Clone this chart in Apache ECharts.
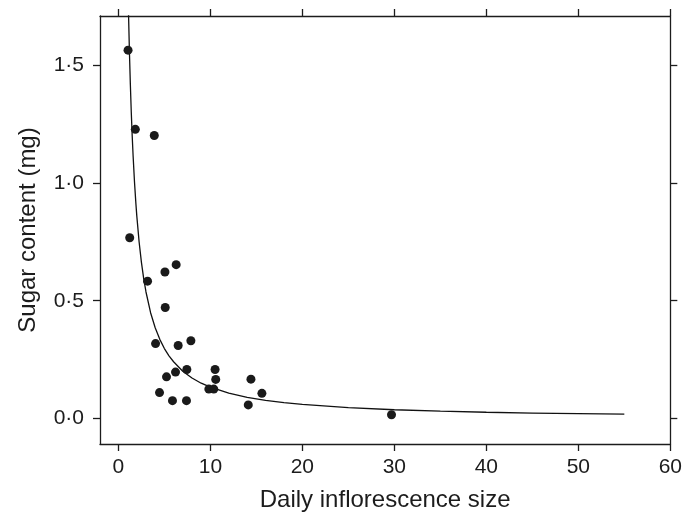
<!DOCTYPE html>
<html>
<head>
<meta charset="utf-8">
<style>
  html, body { margin: 0; padding: 0; background: #fff; }
  #chart { width: 685px; height: 517px; }
</style>
<script src="https://cdn.jsdelivr.net/npm/echarts@6/dist/echarts.min.js"></script>
</head>
<body>
<div id="chart"></div>
<script>
// Observed inflorescences: daily size vs. sugar content
const inflorescenceSize = [1.05, 1.84, 3.9, 1.23, 3.17, 5.06, 6.28, 5.09, 4.04, 6.5,
  7.88, 7.44, 6.21, 5.23, 4.47, 5.88, 7.4, 10.51, 10.58, 9.83,
  10.37, 14.41, 15.6, 14.12, 29.69];
const sugarContent = [1.563, 1.227, 1.201, 0.767, 0.583, 0.622, 0.653, 0.471, 0.318, 0.31,
  0.33, 0.208, 0.197, 0.177, 0.11, 0.076, 0.076, 0.208, 0.166, 0.125,
  0.125, 0.167, 0.107, 0.058, 0.016];

// Fitted decay curve, sampled along its length
const curveSize = [1.1, 1.2, 1.3, 1.4, 1.5, 1.6, 1.75, 1.9, 2, 2.25, 2.5, 2.75, 3, 3.5, 4, 4.5,
  5, 5.5, 6, 7, 8, 9, 10, 12, 14, 16, 18, 20, 25, 30, 35, 40, 45, 50, 55];
const curveSugar = [1.719, 1.554, 1.417, 1.3, 1.2, 1.114, 1.004, 0.913, 0.86, 0.75, 0.664, 0.594,
  0.537, 0.449, 0.385, 0.336, 0.297, 0.266, 0.241, 0.201, 0.172, 0.15, 0.133, 0.108, 0.0901,
  0.0772, 0.0674, 0.06, 0.046, 0.0373, 0.0312, 0.0267, 0.0233, 0.0206, 0.0185];

// Axis ticks
const xTicks = [0, 10, 20, 30, 40, 50, 60];
const yTicks = [0, 0.5, 1.0, 1.5];

const ink = '#1c1c1c';
const fontFamily = '"Liberation Sans", Arial, Helvetica, sans-serif';

const chart = echarts.init(document.getElementById('chart'), null, { renderer: 'canvas' });

const lineStyle = { color: ink, width: 1.3 };
const tickStyle = { color: ink, width: 1.3 };

function xAxisDef(pos, withLabels) {
  return {
    type: 'value', position: pos, min: -2, max: 60,
    axisLine: { show: true, onZero: false, lineStyle },
    axisTick: { show: true, inside: false, length: 7, lineStyle: tickStyle, customValues: xTicks },
    axisLabel: withLabels ? {
      show: true, customValues: xTicks, margin: 13,
      color: ink, fontSize: 21, fontFamily
    } : { show: false },
    splitLine: { show: false },
    name: withLabels ? 'Daily inflorescence size' : '',
    nameLocation: 'middle', nameGap: 44,
    nameTextStyle: { color: ink, fontSize: 24, fontFamily }
  };
}

function yAxisDef(pos, withLabels) {
  return {
    type: 'value', position: pos, min: -0.108, max: 1.708,
    axisLine: { show: true, onZero: false, lineStyle },
    axisTick: { show: true, inside: false, length: 7, lineStyle: tickStyle, customValues: yTicks },
    axisLabel: withLabels ? {
      show: true, customValues: yTicks, margin: 16,
      color: ink, fontSize: 21, fontFamily,
      formatter: v => v.toFixed(1).replace('.', '\u00B7')
    } : { show: false },
    splitLine: { show: false },
    name: withLabels ? 'Sugar content (mg)' : '',
    nameLocation: 'middle', nameGap: 60, nameRotate: 90,
    nameTextStyle: { color: ink, fontSize: 24, fontFamily }
  };
}

chart.setOption({
  backgroundColor: '#ffffff',
  animation: false,
  grid: { left: 100, top: 16, right: 13, bottom: 70, containLabel: false },
  xAxis: [xAxisDef('bottom', true), xAxisDef('top', false)],
  yAxis: [yAxisDef('left', true), yAxisDef('right', false)],
  series: [
    {
      type: 'line',
      xAxisIndex: 0, yAxisIndex: 0,
      data: curveSize.map((x, i) => [x, curveSugar[i]]),
      showSymbol: false,
      smooth: false,
      clip: true,
      lineStyle: { color: '#111', width: 1.3 },
      z: 2
    },
    {
      type: 'scatter',
      xAxisIndex: 0, yAxisIndex: 0,
      data: inflorescenceSize.map((x, i) => [x, sugarContent[i]]),
      symbol: 'circle',
      symbolSize: 9,
      itemStyle: { color: '#1a1a1a', opacity: 1 },
      z: 3
    }
  ]
});
</script>
</body>
</html>
